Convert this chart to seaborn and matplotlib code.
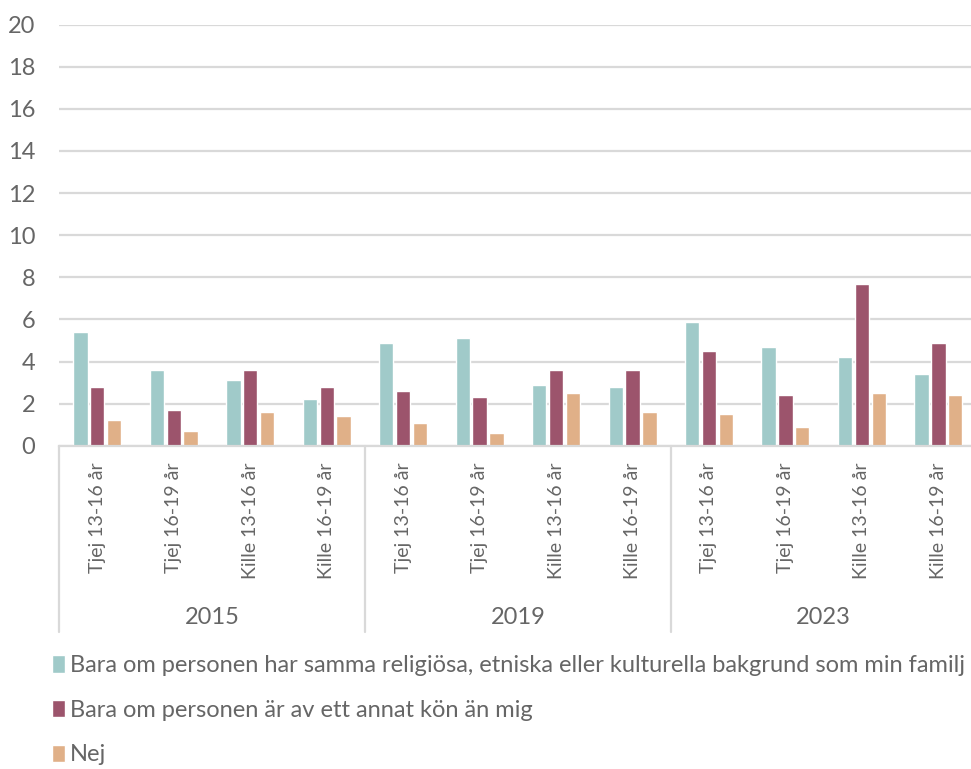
import pandas as pd
import seaborn as sns
import matplotlib.pyplot as plt
from matplotlib.transforms import blended_transform_factory

years = ["2015", "2019", "2023"]
groups = ["Tjej 13-16 år", "Tjej 16-19 år", "Kille 13-16 år", "Kille 16-19 år"]
series = [
    "Bara om personen har samma religiösa, etniska eller kulturella bakgrund som min familj",
    "Bara om personen är av ett annat kön än mig",
    "Nej",
]
religion = [5.4, 3.6, 3.1, 2.2, 4.9, 5.1, 2.9, 2.8, 5.9, 4.7, 4.2, 3.4]
kon = [2.8, 1.7, 3.6, 2.8, 2.6, 2.3, 3.6, 3.6, 4.5, 2.4, 7.7, 4.9]
nej = [1.2, 0.7, 1.6, 1.4, 1.1, 0.6, 2.5, 1.6, 1.5, 0.9, 2.5, 2.4]
colors = ["#a0cac9", "#9c546c", "#e0b088"]

cats = [f"{y}|{g}" for y in years for g in groups]
rows = []
for s, vals in zip(series, [religion, kon, nej]):
    for c, v in zip(cats, vals):
        rows.append({"kat": c, "serie": s, "varde": v})
df = pd.DataFrame(rows)

sns.set_style("white")
plt.rcParams['font.family'] = ['Lato', 'DejaVu Sans']
txt = "#666666"

fig = plt.figure(figsize=(9.71, 7.69), dpi=100)
ax = fig.add_axes([0.0608, 0.4204, 0.945, 0.5475])

sns.barplot(data=df, x="kat", y="varde", hue="serie", order=cats, hue_order=series,
            palette=colors, width=0.66, gap=0.15, saturation=1, ax=ax)

ax.set_ylim(0, 20)
ax.set_xlim(-0.5, 11.5)
ax.set_yticks(range(0, 21, 2))
ax.yaxis.grid(True, color="#d9d9d9", linewidth=1.6)
ax.set_axisbelow(True)
for sp in ["top", "right", "left"]:
    ax.spines[sp].set_visible(False)
ax.spines["bottom"].set_color("#d9d9d9")
ax.spines["bottom"].set_linewidth(1.6)
ax.set_xlabel("")
ax.set_ylabel("")
ax.set_xticks(range(len(cats)))
ax.set_xticklabels([c.split("|")[1] for c in cats], rotation=90, va="top", ha="center")
ax.tick_params(axis="x", length=0, pad=12, labelsize=14, labelcolor=txt)
ax.tick_params(axis="y", length=0, pad=17, labelsize=17, labelcolor=txt)

trans = blended_transform_factory(ax.transData, ax.transAxes)
for i, y in enumerate(years):
    ax.text(i * 4 + 1.5, -0.407, y, transform=trans, ha="center", va="center",
            fontsize=17, color=txt)
for x in [-0.5, 3.5, 7.5, 11.5]:
    ax.plot([x, x], [0, -0.4425], transform=trans, color="#d9d9d9", linewidth=1.6,
            clip_on=False)

handles, labels = ax.get_legend_handles_labels()
ax.get_legend().remove()
fig.legend(handles, labels, loc="upper left", bbox_to_anchor=(0.0536, 0.148),
           frameon=False, borderpad=0, borderaxespad=0, fontsize=17,
           labelcolor=txt, handlelength=0.55, handleheight=0.75, handletextpad=0.2,
           labelspacing=1.0)

fig.savefig("out.png", dpi=100)
